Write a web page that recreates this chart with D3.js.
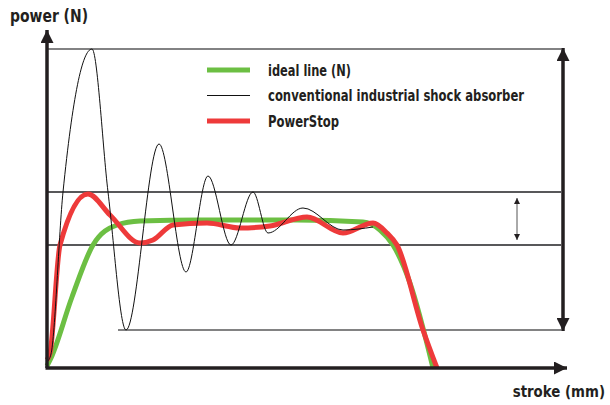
<!DOCTYPE html>
<html>
<head>
<meta charset="utf-8">
<script src="https://cdn.jsdelivr.net/npm/d3@7"></script>
<style>
  body { margin: 0; background: #fff; }
  text { font-family: "DejaVu Sans Condensed", "Liberation Sans", sans-serif; fill: #231f20; }
</style>
</head>
<body>
<div id="chart"></div>
<script>
// stroke (mm) vs power (N), values in chart units
var idealLine = [[0, 2], [4, 10], [25, 71], [46, 123], [70, 143], [93, 147], [153, 148], [250, 148], [316, 146], [333, 138], [346, 123], [363, 85], [386, 0]];
var conventional = [[0, 6], [4, 14], [16, 176], [45, 319], [61, 176], [79, 38], [112, 224], [139, 96], [161, 192], [184, 123], [206, 176], [221, 135], [256, 160], [296, 138], [326, 141]];
var powerStop = [[0, 8], [3, 15], [13, 123], [41, 174], [63, 153], [93, 125], [106, 128], [126, 143], [160, 145], [193, 140], [223, 142], [260, 151], [296, 135], [326, 145], [340, 135], [350, 123], [376, 38], [390, 0]];

// guide levels (N)
var maxLevel = 319, bandHigh = 176, bandLow = 123, minLevel = 38;

var legendLabels = ["ideal line (N)", "conventional industrial shock absorber", "PowerStop"];
var legendColors = ["#6cbf43", "#111", "#ee3a3a"];
var legendWidths = [5, 1, 5];
var legendTextWidths = [83, 256, 71];

var width = 610, height = 405;

var svg = d3.select("#chart").append("svg")
    .attr("width", width)
    .attr("height", height);

var x = d3.scaleLinear().domain([0, 520]).range([47, 567]);
var y = d3.scaleLinear().domain([0, 320]).range([368, 48]);

var defs = svg.append("defs");
function arrowHead(id, color, w, h) {
    defs.append("marker")
        .attr("id", id)
        .attr("viewBox", "0 0 10 10")
        .attr("refX", 10).attr("refY", 5)
        .attr("markerUnits", "userSpaceOnUse")
        .attr("markerWidth", h).attr("markerHeight", w)
        .attr("orient", "auto-start-reverse")
        .append("path")
        .attr("d", "M0,0L10,5L0,10Z")
        .attr("fill", color);
}
arrowHead("big", "#231f20", 13, 15);
arrowHead("small", "#231f20", 6, 6);

// guide lines
var guides = svg.append("g").attr("stroke", "#58585a");
guides.append("line")
    .attr("x1", x(0)).attr("x2", x(514))
    .attr("y1", y(maxLevel)).attr("y2", y(maxLevel))
    .attr("stroke-width", 1.3);
[bandHigh, bandLow].forEach(function(v) {
    guides.append("line")
        .attr("x1", x(0)).attr("x2", x(514))
        .attr("y1", y(v)).attr("y2", y(v))
        .attr("stroke-width", 2);
});
guides.append("line")
    .attr("x1", x(71)).attr("x2", x(514))
    .attr("y1", y(minLevel)).attr("y2", y(minLevel))
    .attr("stroke-width", 1.6);

// curves
var line = d3.line()
    .x(function(d) { return x(d[0]); })
    .y(function(d) { return y(d[1]); })
    .curve(d3.curveMonotoneX);

svg.append("path").datum(idealLine)
    .attr("d", line).attr("fill", "none")
    .attr("stroke", legendColors[0]).attr("stroke-width", 5);
svg.append("path").datum(powerStop)
    .attr("d", line).attr("fill", "none")
    .attr("stroke", legendColors[2]).attr("stroke-width", 5);
svg.append("path").datum(conventional)
    .attr("d", line).attr("fill", "none")
    .attr("stroke", legendColors[1]).attr("stroke-width", 1);

// axes
svg.append("line")
    .attr("x1", x(0)).attr("y1", y(0))
    .attr("x2", x(0)).attr("y2", 30)
    .attr("stroke", "#231f20").attr("stroke-width", 3.5)
    .attr("marker-end", "url(#big)");
svg.append("line")
    .attr("x1", x(0) - 1.5).attr("y1", y(0))
    .attr("x2", 567).attr("y2", y(0))
    .attr("stroke", "#231f20").attr("stroke-width", 3.5)
    .attr("marker-end", "url(#big)");

// range arrows
svg.append("line")
    .attr("x1", x(516)).attr("x2", x(516))
    .attr("y1", y(maxLevel) - 1).attr("y2", y(minLevel) + 1)
    .attr("stroke", "#231f20").attr("stroke-width", 3.5)
    .attr("marker-start", "url(#big)")
    .attr("marker-end", "url(#big)");
svg.append("line")
    .attr("x1", x(470)).attr("x2", x(470))
    .attr("y1", y(bandHigh) + 6).attr("y2", y(bandLow) - 5)
    .attr("stroke", "#555").attr("stroke-width", 1)
    .attr("marker-start", "url(#small)")
    .attr("marker-end", "url(#small)");

// axis labels
svg.append("text")
    .attr("x", 10).attr("y", 22)
    .attr("font-size", 17).attr("font-weight", "bold")
    .attr("textLength", 78).attr("lengthAdjust", "spacingAndGlyphs")
    .text("power (N)");
svg.append("text")
    .attr("transform", "translate(605,397) scale(0.9,1)")
    .attr("text-anchor", "end")
    .attr("font-size", 16.5).attr("font-weight", "bold")
    .text("stroke (mm)");

// legend
var legend = svg.append("g").attr("transform", "translate(207,70)");
legendLabels.forEach(function(label, i) {
    var row = legend.append("g").attr("transform", "translate(0," + (i * 25.5) + ")");
    row.append("line")
        .attr("x1", 0).attr("x2", 43)
        .attr("stroke", legendColors[i])
        .attr("stroke-width", legendWidths[i]);
    row.append("text")
        .attr("x", 61).attr("y", 5.5)
        .attr("font-size", 15).attr("font-weight", "bold")
        .attr("textLength", legendTextWidths[i]).attr("lengthAdjust", "spacingAndGlyphs")
        .text(label);
});
</script>
</body>
</html>
